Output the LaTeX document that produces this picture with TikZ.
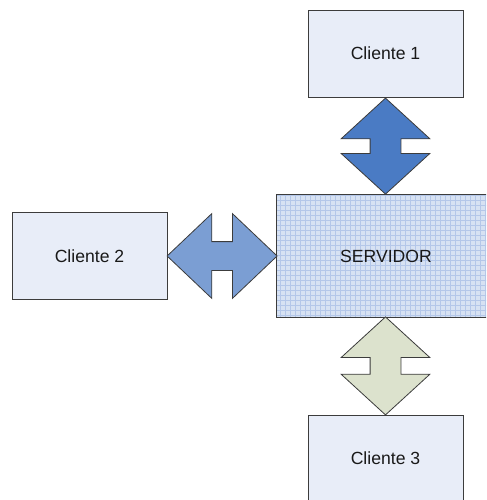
\documentclass[tikz,border=0pt]{standalone}
\usepackage{fontspec}
\setmainfont{Liberation Sans}
\usetikzlibrary{positioning,shapes.arrows,calc}

\definecolor{boxline}{HTML}{3C3C3C}
\definecolor{clientfill}{HTML}{E8EDF8}
\definecolor{srvfill}{HTML}{D7E2F3}
\definecolor{srvgrid}{HTML}{B4C7E9}
\definecolor{arrowA}{HTML}{4A7BC4}
\definecolor{arrowB}{HTML}{7B9ED3}
\definecolor{arrowC}{HTML}{DCE2CD}

\tikzset{
  client/.style={draw=boxline, fill=clientfill, line width=0.75pt,
    minimum width=116.25pt, minimum height=65.25pt,
    font=\fontsize{13.2}{15}\selectfont, text=black!90},
  server/.style={fill=srvfill, minimum width=172.5pt, minimum height=91.5pt},
  link/.style={double arrow, draw=boxline, line width=0.6pt,
    inner xsep=0pt, inner ysep=11.25pt,
    minimum width=66pt, double arrow head extend=21.75pt,
    double arrow tip angle=95}
}

\begin{document}
\begin{tikzpicture}[x=0.75pt,y=-0.75pt]
	\useasboundingbox (0,0) rectangle (486,500);
	\clip (0,0) rectangle (486,500);

	% boxes
	\node[server] (srv) at (392,256) {};
	\begin{scope}
		\clip (srv.south west) rectangle (srv.north east);
		\draw[srvgrid, line width=0.3pt, step=3.75pt] (srv.south west) grid (srv.north east);
	\end{scope}
	\draw[boxline, line width=0.75pt] (srv.south west) rectangle (srv.north east);
	\node[font=\fontsize{13.2}{15}\selectfont, text=black!90] (srvtext) at (386,256) {SERVIDOR};

	\node[client] (c1) at (385.5,53.5) {Cliente 1};
	\node[client] (c2) at (89.5,256) {Cliente 2};
	\node[client] (c3) at (385.5,458.5) {Cliente 3};

	% links
	\node[link, fill=arrowA, rotate=90, minimum height=72pt]
		(l1) at ($(c1.south)!0.5!(c1.south |- srv.north)$) {};
	\node[link, fill=arrowB, minimum height=82.5pt, double arrow tip angle=87,
		inner ysep=10.5pt, minimum width=63pt, double arrow head extend=21pt]
		(l2) at ($(c2.east)!0.5!(srv.west)$) {};
	\node[link, fill=arrowC, rotate=90, minimum height=73.5pt]
		(l3) at ($(srv.south -| c3.north)!0.5!(c3.north)$) {};
\end{tikzpicture}
\end{document}
